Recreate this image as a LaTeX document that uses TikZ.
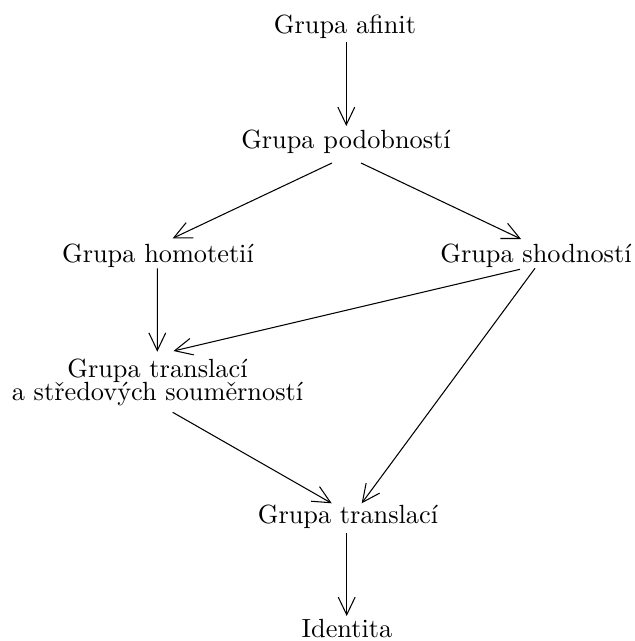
\documentclass[tikz,border=0pt]{standalone}
\usetikzlibrary{arrows.meta,calc}
\begin{document}
\begin{tikzpicture}[x=0.3802pt,y=-0.3802pt,
  lbl/.style={inner sep=0pt, font=\normalsize},
  arr/.style={-{Straight Barb[length=6.7pt,width=6.4pt]}, line width=0.4pt}]
\useasboundingbox (0,0) rectangle (634,641);
\node[lbl, anchor=base] (A) at (345,33) {Grupa afinit};
\node[lbl, anchor=base] (P) at (346,148) {Grupa podobností};
\node[lbl, anchor=base] (H) at (158,262) {Grupa homotetií};
\node[lbl, anchor=base] (S) at (536,262) {Grupa shodností};
\node[lbl, align=center] (T) at (157.5,382.5) {Grupa translací\\[-3.3pt]a středových souměrností};
\node[lbl, anchor=base] (B) at (348,523) {Grupa translací};
\node[lbl, anchor=base] (I) at (347,637) {Identita};
\draw[arr] ($(A.base)+(1.3,9)$) -- ($(P.base)+(0.3,-22)$);
\draw[arr] ($(P.base)+(-14,15)$) -- ($(H.base)+(14.7,-23.7)$);
\draw[arr] ($(P.base)+(15,15)$) -- ($(S.base)+(-15,-23)$);
\draw[arr] ($(H.base)+(-0.7,6.3)$) -- ($(T.center)+(-0.2,-30.8)$);
\draw[arr] ($(S.base)+(-16,7.3)$) -- ($(T.center)+(16,-31.5)$);
\draw[arr] ($(S.base)+(-1,6.3)$) -- ($(B.base)+(13.7,-19.7)$);
\draw[arr] ($(T.center)+(15.2,29.8)$) -- ($(B.base)+(-16.3,-19.7)$);
\draw[arr] ($(B.base)+(-1.3,10)$) -- ($(I.base)+(-0.3,-21)$);
\end{tikzpicture}
\end{document}
